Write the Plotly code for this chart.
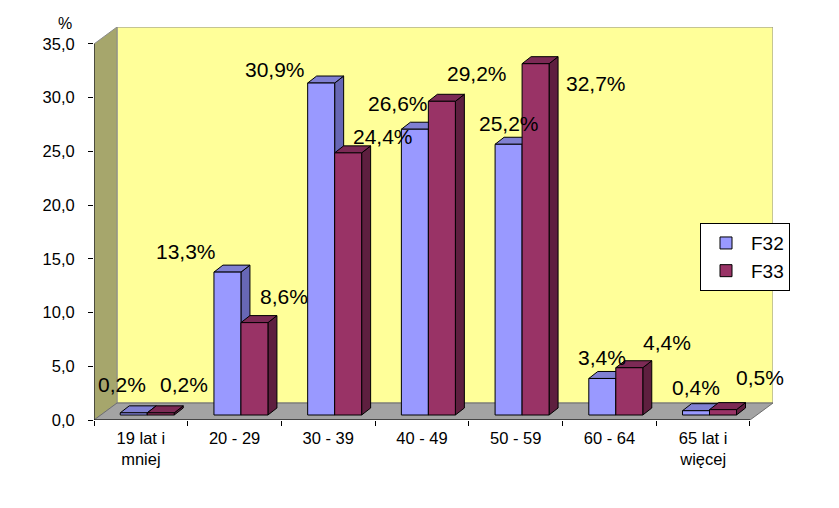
import plotly.graph_objects as go

# ---- data ----
categories = ["19 lat i<br>mniej", "20 - 29", "30 - 39", "40 - 49", "50 - 59", "60 - 64", "65 lat i<br>więcej"]
f32 = [0.2, 13.3, 30.9, 26.6, 25.2, 3.4, 0.4]
f33 = [0.2, 8.6, 24.4, 29.2, 32.7, 4.4, 0.5]
y_ticks = [0, 5, 10, 15, 20, 25, 30, 35]

# ---- styles / geometry (px-derived, in axis units) ----
FONT = "Arial, Liberation Sans, sans-serif"
WALL_DX, WALL_DY = 0.2455, 1.58      # depth of the 3D box
BAR_BASE = 0.465                      # bars sit slightly back on the floor
BAR_SHIFT = 0.068
BAR_W = 0.288
BAR_DX, BAR_DY = 0.096, 0.652         # depth of the bars
YMAX = 35
X0, X1 = -0.5, len(categories) - 0.5

series = [
    dict(name="F32", vals=f32, front="#9999FF", top="#8080D2", side="#6767B5",
         offset=BAR_SHIFT - BAR_W,
         lab_dx=[-12, -41, -46, -17, 0, 0, 0],
         lab_dy=[28, 21, 14, 26, 21, 21, 23]),
    dict(name="F33", vals=f33, front="#993366", top="#7C2A55", side="#5E1F3F",
         offset=BAR_SHIFT,
         lab_dx=[23, 30, 35, 35, 60, 38, 37],
         lab_dy=[28, 26, 16, 28, -20, 25, 32]),
]

fig = go.Figure()
for s in series:
    fig.add_trace(go.Bar(
        x=categories, y=s["vals"], base=BAR_BASE, name=s["name"],
        offset=s["offset"], width=BAR_W,
        marker=dict(color=s["front"], line=dict(color="black", width=1)),
        legendgroup=s["name"], hoverinfo="skip",
    ))

shapes = []
def poly(pts, fill, line="black", lw=1, layer="below"):
    d = "M " + " L ".join(f"{x},{y}" for x, y in pts) + " Z"
    shapes.append(dict(type="path", path=d, xref="x", yref="y", fillcolor=fill,
                       line=dict(color=line, width=lw), layer=layer))

# back wall, left wall, floor
poly([(X0 + WALL_DX, WALL_DY), (X1 + WALL_DX, WALL_DY), (X1 + WALL_DX, YMAX + WALL_DY),
      (X0 + WALL_DX, YMAX + WALL_DY)], "#FFFF99", line="#8C8C8C")
poly([(X0, 0), (X0, YMAX), (X0 + WALL_DX, YMAX + WALL_DY), (X0 + WALL_DX, WALL_DY)],
     "#A6A66C", line="#8C8C8C")
poly([(X0, 0), (X1, 0), (X1 + WALL_DX, WALL_DY), (X0 + WALL_DX, WALL_DY)],
     "#A3A3A3", line="#6E6E6E")

# 3D faces of bars
for i in range(len(categories)):
    for s in series:
        v = s["vals"][i]
        xl = i + s["offset"]
        xr = xl + BAR_W
        b = BAR_BASE
        t = BAR_BASE + v
        poly([(xr, b), (xr, t), (xr + BAR_DX, t + BAR_DY), (xr + BAR_DX, b + BAR_DY)], s["side"])
        poly([(xl, t), (xr, t), (xr + BAR_DX, t + BAR_DY), (xl + BAR_DX, t + BAR_DY)], s["top"])

# axis lines
shapes.append(dict(type="line", xref="x", yref="y", x0=X0, y0=0, x1=X1, y1=0,
                   line=dict(color="black", width=1), layer="above"))
shapes.append(dict(type="line", xref="x", yref="y", x0=X0, y0=0, x1=X0, y1=YMAX,
                   line=dict(color="black", width=1), layer="above"))

annotations = []
for s in series:
    for i, v in enumerate(s["vals"]):
        annotations.append(dict(
            x=i + s["offset"] + BAR_W / 2, y=BAR_BASE + v, xref="x", yref="y",
            text=f"{v:.1f}".replace(".", ",") + "%", showarrow=False,
            xshift=s["lab_dx"][i], yshift=s["lab_dy"][i],
            xanchor="center", yanchor="middle",
            font=dict(family=FONT, size=21, color="black"),
        ))
annotations.append(dict(x=-0.043, y=1.008, xref="paper", yref="paper", text="%",
                        showarrow=False, xanchor="center", yanchor="middle",
                        font=dict(family=FONT, size=16, color="black")))

fig.update_layout(
    width=831, height=500, autosize=False,
    margin=dict(l=86, r=66, t=19, b=88),
    paper_bgcolor="white", plot_bgcolor="white",
    separators=", ",
    barmode="overlay",
    shapes=shapes, annotations=annotations,
    font=dict(family=FONT, color="black"),
    showlegend=True,
    legend=dict(x=0.8925, y=0.501, xanchor="left", yanchor="top",
                bgcolor="white", bordercolor="black", borderwidth=1,
                font=dict(family=FONT, size=19, color="black"),
                tracegroupgap=0, traceorder="grouped", itemwidth=40),
    xaxis=dict(type="category", range=[X0, X1 + WALL_DX], showgrid=False, zeroline=False,
               showline=False, ticks="outside", tickson="boundaries", ticklen=5,
               tickcolor="black", ticklabelstandoff=6,
               tickfont=dict(family=FONT, size=16.5, color="black"),
               fixedrange=True),
    yaxis=dict(range=[0, YMAX + WALL_DY], tickvals=y_ticks, tickformat=".1f",
               showgrid=False, zeroline=False, showline=False, ticks="outside",
               ticklen=5, tickcolor="black", ticklabelstandoff=10,
               tickfont=dict(family=FONT, size=16.5, color="black"), fixedrange=True),
)

fig.write_html("out.html")
